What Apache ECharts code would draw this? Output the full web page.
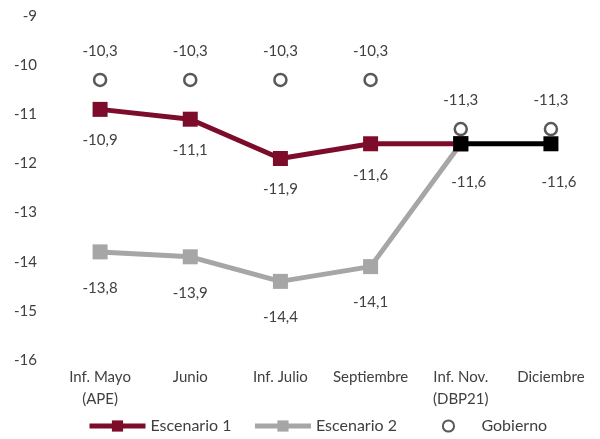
<!DOCTYPE html>
<html><head><meta charset="utf-8">
<script src="https://cdn.jsdelivr.net/npm/echarts@6/dist/echarts.min.js"></script>
<style>html,body{margin:0;padding:0;background:#fff}#c{width:600px;height:439px}</style>
</head><body><div id="c"></div>
<script>
const categories = ['Inf. Mayo\n(APE)', 'Junio', 'Inf. Julio', 'Septiembre', 'Inf. Nov.\n(DBP21)', 'Diciembre'];
const escenario1 = [-10.9, -11.1, -11.9, -11.6, -11.6, null];
const escenario1Final = [null, null, null, null, -11.6, -11.6];
const escenario2 = [-13.8, -13.9, -14.4, -14.1, -11.6, null];
const gobierno = [-10.3, -10.3, -10.3, -10.3, -11.3, -11.3];

const FONT = 'Lato';
const TXT = '#404040';
const RED = '#7D0C2B';
const GREY = '#A6A6A6';
const fmt = v => String(v).replace('.', ',');

function lbl(pos, dist, extra) {
  return Object.assign({show: true, position: pos, distance: dist, color: TXT, fontFamily: FONT, fontSize: 15,
    formatter: p => p.value == null ? '' : fmt(p.value)}, extra || {});
}
const hideAt = (arr, idx) => arr.map((v, i) => i === idx ? {value: v, label: {show: false}} : v);

const chart = echarts.init(document.getElementById('c'), null, {renderer: 'canvas'});
chart.setOption({
  animation: false,
  grid: {left: 55, right: 4, top: 16, bottom: 79},
  legend: {
    bottom: 0, left: 82, itemWidth: 56, itemHeight: 14, itemGap: 21,
    textStyle: {color: TXT, fontFamily: FONT, fontSize: 16},
    lineStyle: {width: 5},
    data: ['Escenario 1', 'Escenario 2', 'Gobierno']
  },
  xAxis: {
    type: 'category', data: categories,
    axisLine: {show: false}, axisTick: {show: false},
    axisLabel: {color: TXT, fontFamily: FONT, fontSize: 15, margin: 6, lineHeight: 22, interval: 0}
  },
  yAxis: {
    type: 'value', min: -16, max: -9, interval: 1,
    axisLine: {show: false}, axisTick: {show: false}, splitLine: {show: false},
    axisLabel: {color: TXT, fontFamily: FONT, fontSize: 15, margin: 18}
  },
  series: [
    {
      name: 'Escenario 2', type: 'line', data: hideAt(escenario2, 4), z: 2,
      symbol: 'rect', symbolSize: 15, lineStyle: {color: GREY, width: 5}, itemStyle: {color: GREY},
      label: lbl('bottom', 21)
    },
    {
      name: 'Escenario 1', type: 'line', data: hideAt(escenario1, 4), z: 3,
      symbol: 'rect', symbolSize: 15, lineStyle: {color: RED, width: 5}, itemStyle: {color: RED},
      label: lbl('bottom', 16)
    },
    {
      name: 'Escenario 1 final', type: 'line', data: escenario1Final, z: 4,
      symbol: 'rect', symbolSize: 15, lineStyle: {color: '#000', width: 5}, itemStyle: {color: '#000'},
      label: lbl('bottom', 23, {offset: [8, 0]})
    },
    {
      name: 'Gobierno', type: 'line', data: gobierno, z: 5,
      symbol: 'circle', symbolSize: 12,
      lineStyle: {width: 0, opacity: 0},
      itemStyle: {color: '#fff', borderColor: '#595959', borderWidth: 2.5},
      label: lbl('top', 14)
    }
  ]
});
</script></body></html>
